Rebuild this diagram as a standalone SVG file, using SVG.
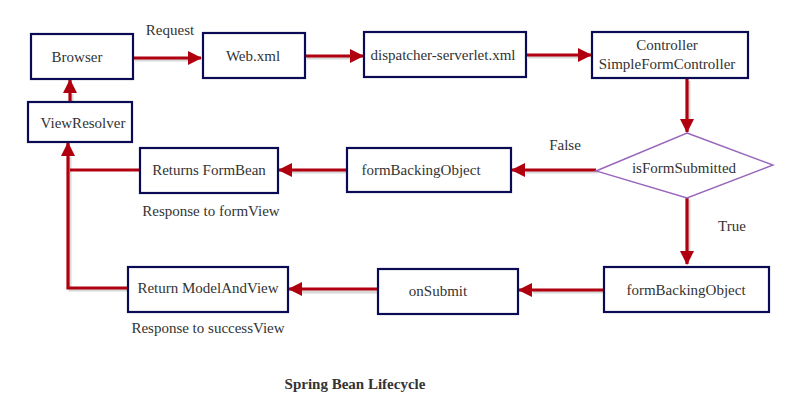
<svg xmlns="http://www.w3.org/2000/svg" width="786" height="403" viewBox="0 0 786 403">
<defs>
<marker id="ah" viewBox="0 0 14 14" refX="13" refY="7" markerWidth="14" markerHeight="14" markerUnits="userSpaceOnUse" orient="auto">
<path d="M0,0 L14,7 L0,14 Z" fill="#b0000f"/>
</marker>
</defs>
<style>
.box{fill:#fff;stroke:#0a0a55;stroke-width:2.2}
.dia{fill:#fff;stroke:#9966bb;stroke-width:1.4}
text{font-family:'Liberation Serif','DejaVu Serif',serif;font-size:15px;fill:#333;text-anchor:middle}
.b{font-weight:bold;font-size:15px}
.c{fill:none;stroke:#b0000f;stroke-width:3.2}
.s{fill:none;stroke:#d8d8d8;stroke-width:3}
</style>
<rect width="786" height="403" fill="#fff"/>
<g id="connectors">
<g transform="translate(2,2)">
<path class="s" d="M133,58 H190"/>
<path class="s" d="M305,56 H352"/>
<path class="s" d="M526,55 H580"/>
<path class="s" d="M687,79 V120"/>
<path class="s" d="M596,170 H524"/>
<path class="s" d="M347,170 H290"/>
<path class="s" d="M687,198 V250"/>
<path class="s" d="M604,290 H531"/>
<path class="s" d="M380,290 H300"/>
<path class="s" d="M128,288 H68 V155"/>
<path class="s" d="M70,101 V92"/>
</g>
<path class="c" d="M133,58 H201" marker-end="url(#ah)"/>
<path class="c" d="M305,56 H363" marker-end="url(#ah)"/>
<path class="c" d="M526,55 H591" marker-end="url(#ah)"/>
<path class="c" d="M687,79 V132" marker-end="url(#ah)"/>
<path class="c" d="M596,170 H512" marker-end="url(#ah)"/>
<path class="c" d="M347,170 H279" marker-end="url(#ah)"/>
<path class="c" d="M687,198 V264" marker-end="url(#ah)"/>
<path class="c" d="M604,290 H519" marker-end="url(#ah)"/>
<path class="c" d="M380,289 H289" marker-end="url(#ah)"/>
<path class="c" d="M128,288 H68 V143" marker-end="url(#ah)"/>
<path class="c" d="M140,170 H70"/>
<path class="c" d="M70,101 V80" marker-end="url(#ah)"/>
</g>
<g id="browser"><rect class="box" x="31" y="34" width="102" height="45"/><text x="77" y="62">Browser</text></g>
<g id="webxml"><rect class="box" x="203" y="33" width="102" height="45"/><text x="253" y="61">Web.xml</text></g>
<g id="dispatcher"><rect class="box" x="364" y="32" width="162" height="45"/><text x="443" y="60">dispatcher-serverlet.xml</text></g>
<g id="controller"><rect class="box" x="592" y="32" width="156" height="46"/><text x="667" y="50">Controller</text><text x="667" y="69">SimpleFormController</text></g>
<g id="viewresolver"><rect class="box" x="28" y="102" width="104" height="40"/><text x="83" y="128">ViewResolver</text></g>
<g id="returnsformbean"><rect class="box" x="140" y="148" width="138" height="45"/><text x="209" y="175">Returns FormBean</text></g>
<g id="formbacking1"><rect class="box" x="347" y="148" width="164" height="44"/><text x="421" y="175">formBackingObject</text></g>
<g id="isformsubmitted"><polygon class="dia" points="687,133 773,165 687,198 596,171"/><text x="684" y="173">isFormSubmitted</text></g>
<g id="formbacking2"><rect class="box" x="604" y="267" width="165" height="45"/><text x="686" y="295">formBackingObject</text></g>
<g id="onsubmit"><rect class="box" x="378" y="269" width="140" height="45"/><text x="438" y="296">onSubmit</text></g>
<g id="returnmodelandview"><rect class="box" x="128" y="267" width="160" height="45"/><text x="208" y="293">Return ModelAndView</text></g>
<g id="labels">
<text x="170" y="35">Request</text>
<text x="565" y="150">False</text>
<text x="732" y="231">True</text>
<text x="211" y="216">Response to formView</text>
<text x="208" y="333">Response to successView</text>
<text class="b" x="355" y="389">Spring Bean Lifecycle</text>
</g>
</svg>
